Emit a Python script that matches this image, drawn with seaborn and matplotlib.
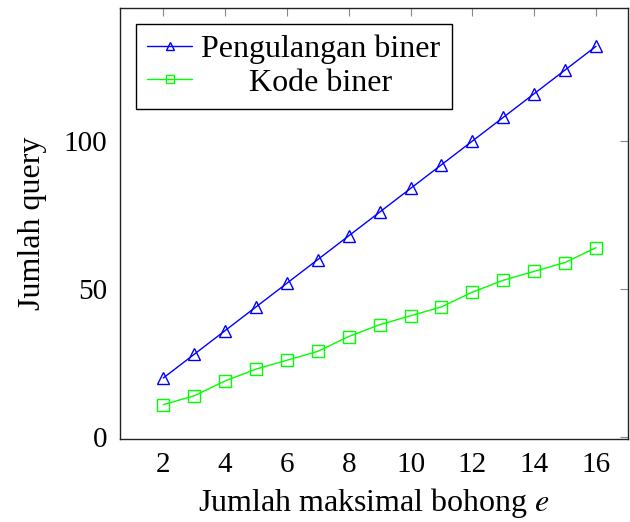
import matplotlib
matplotlib.use("Agg")
import matplotlib.pyplot as plt
import seaborn as sns
import pandas as pd

e_values = [2, 3, 4, 5, 6, 7, 8, 9, 10, 11, 12, 13, 14, 15, 16]
pengulangan_biner = [20, 28, 36, 44, 52, 60, 68, 76, 84, 92, 100, 108, 116, 124, 132]
kode_biner = [11, 14, 19, 23, 26, 29, 34, 38, 41, 44, 49, 53, 56, 59, 64]
x_ticks = [2, 4, 6, 8, 10, 12, 14, 16]
y_ticks = [0, 50, 100]

sns.set_style("white")
plt.rcParams['font.family'] = ['Liberation Serif', 'DejaVu Serif']
plt.rcParams['mathtext.fontset'] = 'stix'
plt.rcParams['text.color'] = 'black'
plt.rcParams['axes.labelcolor'] = 'black'
plt.rcParams['xtick.color'] = 'black'
plt.rcParams['ytick.color'] = 'black'

fig = plt.figure(figsize=(6.3, 5.22), dpi=100)
ax = fig.add_axes([0.1905, 0.159, 0.806, 0.826])

df1 = pd.DataFrame({"e": e_values, "q": pengulangan_biner})
df2 = pd.DataFrame({"e": e_values, "q": kode_biner})
sns.lineplot(data=df1, x="e", y="q", ax=ax, color=(0, 0, 1), marker="^",
             markersize=8, markerfacecolor="none", markeredgecolor=(0, 0, 1),
             markeredgewidth=1, linewidth=1, label="Pengulangan biner")
sns.lineplot(data=df2, x="e", y="q", ax=ax, color=(0, 1, 0), marker="s",
             markersize=9, markerfacecolor="none", markeredgecolor=(0, 1, 0),
             markeredgewidth=1, linewidth=1, label="Kode biner")

ax.set_xlim(0.6, 17.03)
ax.set_ylim(-0.6, 145)
ax.set_xticks(x_ticks)
ax.set_yticks(y_ticks)
ax.tick_params(direction="in", top=True, right=True, length=6, width=0.8,
               colors="black", labelsize=21, pad=9)
ax.tick_params(color="#888888")
for s in ax.spines.values():
    s.set_color("#222222")
    s.set_linewidth(1.0)

ax.set_xlabel("Jumlah maksimal bohong $e$", fontsize=23, labelpad=6)
ax.set_ylabel("Jumlah query", fontsize=23, labelpad=12)

leg = ax.legend(loc="upper left", fontsize=23, frameon=True, fancybox=False,
                edgecolor="black", framealpha=1, borderpad=0.35, labelspacing=0.12,
                handlelength=1.4, handletextpad=0.3, borderaxespad=0.5)
leg.get_frame().set_linewidth(1.0)
for h in leg.legend_handles:
    h.set_markersize(6)

# center the shorter label like the reference
fig.canvas.draw()
r = fig.canvas.get_renderer()
texts = leg.get_texts()
w0 = texts[0].get_window_extent(r).width
w1 = texts[1].get_window_extent(r).width
texts[1].set_x((w0 - w1) / 2)

fig.savefig("out.png", dpi=100)
